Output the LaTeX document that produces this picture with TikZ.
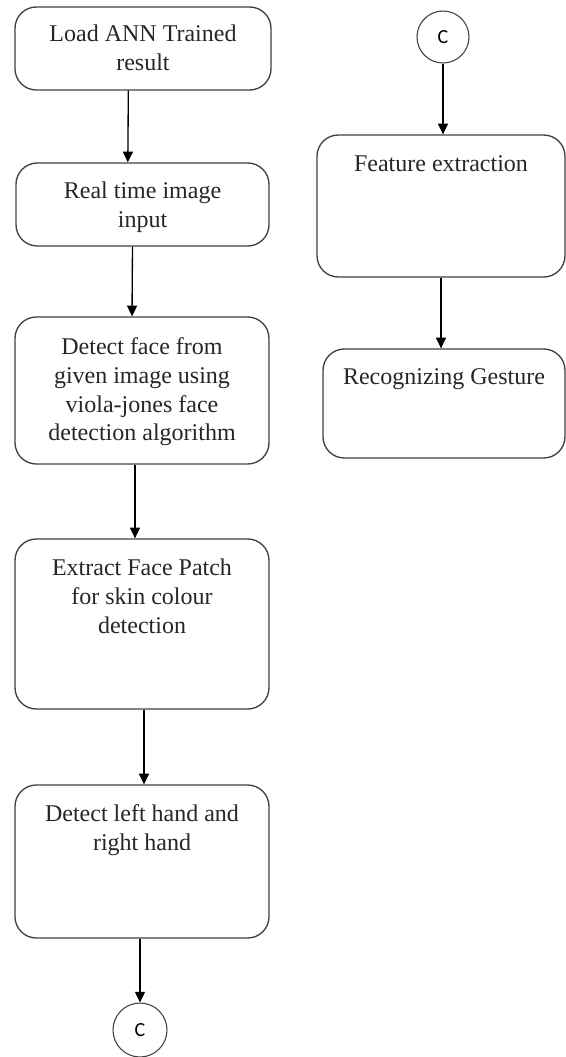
\documentclass[tikz,border=0pt]{standalone}
\usepackage{fontspec}
\setmainfont{Liberation Serif}
\newfontfamily\cfont{Carlito}
\usetikzlibrary{arrows.meta}

\begin{document}
\begin{tikzpicture}[x=0.75pt, y=-0.75pt,
  box/.style = {draw=black!75, line width=1pt, rounded corners=16pt, inner sep=0pt},
  lbl/.style = {anchor=north, align=center, inner sep=0pt, font=\fontsize{18}{21.5}\selectfont, text=black!85},
  conn/.style = {draw=black!75, line width=0.8pt, circle, minimum size=#1, inner sep=0pt, font=\cfont\fontsize{15}{17}\selectfont},
  arr/.style = {draw=black, line width=1pt, -{Triangle[length=8pt,width=7.5pt]}}]
		\useasboundingbox (0,0) rectangle (566,1057);
		% left column
		\node[box, minimum width=192pt, minimum height=62.25pt] (A) at (143,48.5) {};
		\node[box, minimum width=189.75pt, minimum height=62.25pt] (B) at (142.5,204.5) {};
		\node[box, minimum width=190.5pt, minimum height=110.25pt] (C) at (142,390.5) {};
		\node[box, minimum width=190.5pt, minimum height=127.5pt] (D) at (142,624) {};
		\node[box, minimum width=190.5pt, minimum height=114.75pt] (E) at (142,861.5) {};
		\node[conn=40.5pt] (Cbot) at (140,1030) {C};
		% right column
		\node[conn=39pt] (Ctop) at (443,37) {C};
		\node[box, minimum width=186pt, minimum height=106.5pt] (F) at (441,206) {};
		\node[box, minimum width=181.5pt, minimum height=81.75pt] (R) at (444,403.5) {};
		% texts
		\node[lbl] (At) at ([yshift=-14pt]A.north) {Load ANN Trained\\result};
		\node[lbl] (Bt) at ([yshift=-14.5pt]B.north) {Real time image\\input};
		\node[lbl] (Ct) at ([yshift=-16pt]C.north) {Detect face from\\given image using\\viola-jones face\\detection algorithm};
		\node[lbl] (Dt) at ([yshift=-15.5pt]D.north) {Extract Face Patch\\for skin colour\\detection};
		\node[lbl] (Et) at ([yshift=-15pt]E.north) {Detect left hand and\\right hand};
		\node[lbl] (Ft) at ([yshift=-16pt]F.north) {Feature extraction};
		\node[lbl] (Rt) at ([yshift=-15pt]R.north) {Recognizing Gesture};
		% arrows
		\draw[arr] ([xshift=-11pt]A.south) -- ([xshift=-11pt]B.north);
		\draw[arr] ([xshift=-7.5pt]B.south) -- ([xshift=-7.5pt]C.north);
		\draw[arr] ([xshift=-5.25pt]C.south) -- ([xshift=-5.25pt]D.north);
		\draw[arr] ([xshift=1.5pt]D.south) -- ([xshift=1.5pt]E.north);
		\draw[arr] (E.south -| Cbot) -- (Cbot.north);
		\draw[arr] (Ctop.south) -- (Ctop.south |- F.north);
		\draw[arr] (F.south) -- (F.south |- R.north);
\end{tikzpicture}
\end{document}
